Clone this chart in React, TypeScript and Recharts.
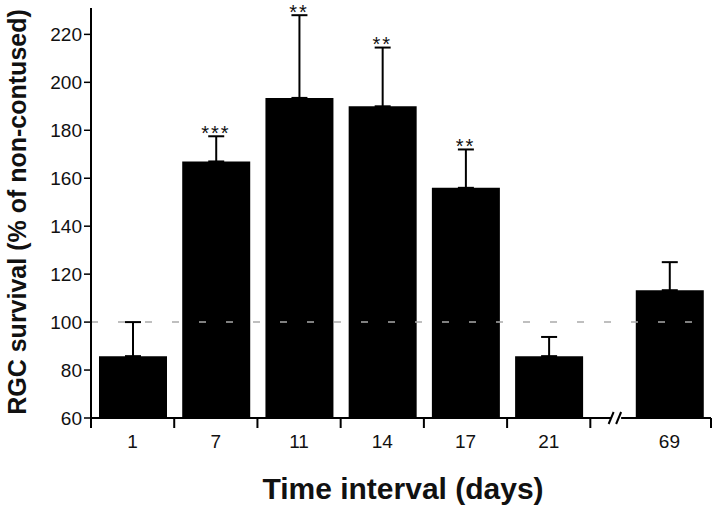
import { ComposedChart, Bar, ErrorBar, Scatter, XAxis, YAxis, ReferenceLine } from 'recharts';

const days = ['1', '7', '11', '14', '17', '21', '69'];
const xPos = [0.5, 1.5, 2.5, 3.5, 4.5, 5.5, 6.95];
const survival = [85.8, 167, 193.5, 190, 156, 85.8, 113.3];
const sem = [14.2, 10.5, 34.5, 24.5, 16, 8, 11.7];
const stars = ['', '***', '**', '**', '**', '', ''];
const bounds = [0, 1, 2, 3, 4, 5, 6, 7.45];
const yTicks = [60, 80, 100, 120, 140, 160, 180, 200, 220];

const data = days.map((d, i) => ({
  day: d,
  pos: xPos[i],
  value: survival[i],
  err: [0, sem[i]],
  top: survival[i] + sem[i],
  stars: stars[i],
}));

const font = '"Liberation Sans", Arial, Helvetica, sans-serif';

const XTick = (props: any) => {
  const { x, y, payload } = props;
  const v = payload.value;
  if (bounds.includes(v)) {
    return <line x1={x} x2={x} y1={y} y2={y + 10} stroke="#000" strokeWidth={2} />;
  }
  const i = xPos.indexOf(v);
  return (
    <text x={x} y={y + 30} textAnchor="middle" fontSize={19} fill="#111" fontFamily={font}>
      {days[i]}
    </text>
  );
};

const StarShape = (props: any) => {
  const { cx, cy, payload } = props;
  if (!payload.stars) return <g />;
  return (
    <text x={cx} y={cy + 3.5} textAnchor="middle" fontSize={20} letterSpacing={2} fill="#111" fontFamily={font}>
      {payload.stars}
    </text>
  );
};

export default function App() {
  return (
    <div style={{ position: 'relative', width: 720, height: 508, background: '#fff' }}>
      <style>{`body{margin:0}`}</style>
      <ComposedChart
        width={720}
        height={508}
        data={data}
        margin={{ top: 8, right: 9, left: 31, bottom: 60 }}
      >
        <XAxis
          type="number"
          dataKey="pos"
          domain={[0, 7.45]}
          ticks={[...bounds, ...xPos]}
          axisLine={false}
          tickLine={false}
          tickSize={0}
          tickMargin={0}
          height={30}
          interval={0}
          tick={<XTick />}
        />
        <YAxis
          type="number"
          domain={[60, 231]}
          ticks={yTicks}
          width={60}
          axisLine={{ stroke: '#000', strokeWidth: 2 }}
          tickLine={{ stroke: '#000', strokeWidth: 1.5 }}
          tickSize={7}
          tickMargin={2}
          tick={{ fill: '#111', fontSize: 19, fontFamily: font }}
        />
        <Bar dataKey="value" fill="#000" barSize={68} isAnimationActive={false}>
          <ErrorBar dataKey="err" width={8} stroke="#000" strokeWidth={2} direction="y" />
        </Bar>
        <Scatter dataKey="top" shape={<StarShape />} isAnimationActive={false} />
        <ReferenceLine y={100} stroke="#aaa" strokeWidth={1.5} strokeDasharray="7 20" />
        <ReferenceLine segment={[{ x: 0, y: 60 }, { x: 6.25, y: 60 }]} stroke="#000" strokeWidth={2} ifOverflow="visible" />
        <ReferenceLine segment={[{ x: 6.37, y: 60 }, { x: 7.45, y: 60 }]} stroke="#000" strokeWidth={2} ifOverflow="visible" />
        <ReferenceLine segment={[{ x: 6.22, y: 57.5 }, { x: 6.28, y: 62.5 }]} stroke="#000" strokeWidth={2} ifOverflow="visible" />
        <ReferenceLine segment={[{ x: 6.31, y: 57.5 }, { x: 6.37, y: 62.5 }]} stroke="#000" strokeWidth={2} ifOverflow="visible" />
      </ComposedChart>
      <div
        style={{
          position: 'absolute',
          left: 17,
          top: 212,
          transform: 'translate(-50%, -50%) rotate(-90deg)',
          whiteSpace: 'nowrap',
          fontFamily: font,
          fontWeight: 'bold',
          fontSize: 25,
          color: '#111',
        }}
      >
        RGC survival (% of non-contused)
      </div>
      <div
        style={{
          position: 'absolute',
          left: 403,
          top: 489,
          transform: 'translate(-50%, -50%)',
          whiteSpace: 'nowrap',
          fontFamily: font,
          fontWeight: 'bold',
          fontSize: 30,
          color: '#111',
        }}
      >
        Time interval (days)
      </div>
    </div>
  );
}
